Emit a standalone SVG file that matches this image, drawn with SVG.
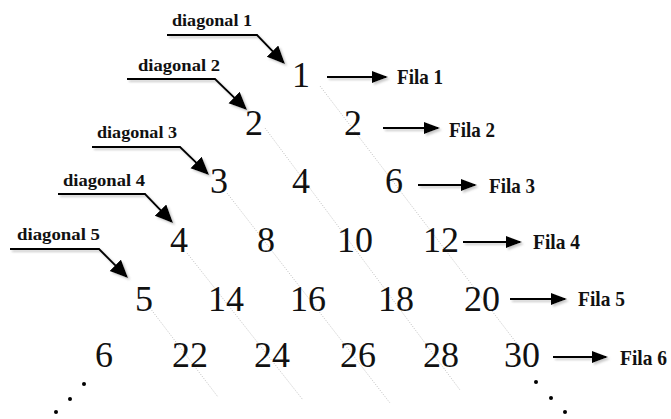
<svg xmlns="http://www.w3.org/2000/svg" width="671" height="419" viewBox="0 0 671 419">
  <style>
    .num { font-family: 'Liberation Serif', serif; font-size: 36px; fill: #111; text-anchor: middle; }
    .lab { font-family: 'Liberation Serif', serif; font-weight: bold; font-size: 17px; fill: #111; }
    .fila { font-family: 'Liberation Serif', serif; font-weight: bold; font-size: 21px; fill: #111; }
    .diag { fill: none; stroke: #b0b0b0; stroke-width: 0.8; stroke-dasharray: 1 1.6; }
    .arr { fill: none; stroke: #000; stroke-width: 2; }
    .dot { fill: #000; }
  </style>
  <defs>
    <filter id="shadow" x="-20%" y="-20%" width="140%" height="160%">
      <feDropShadow dx="2" dy="2" stdDeviation="0.8" flood-color="#888" flood-opacity="0.45"/>
    </filter>
    <marker id="headBig" markerUnits="userSpaceOnUse" markerWidth="20" markerHeight="18" refX="16" refY="8" orient="auto">
      <path d="M0,0 L18,8 L0,16 Z" fill="#000"/>
    </marker>
    <marker id="headSmall" markerUnits="userSpaceOnUse" markerWidth="18" markerHeight="14" refX="14" refY="6" orient="auto">
      <path d="M0,0 L16,6 L0,12 Z" fill="#000"/>
    </marker>
  </defs>

  <!-- dotted diagonals running through the triangle -->
  <g id="diagonals">
    <line class="diag" x1="320" y1="86" x2="518" y2="345"/>
    <line class="diag" x1="265" y1="128" x2="460" y2="390"/>
    <line class="diag" x1="227" y1="193" x2="390" y2="403"/>
    <line class="diag" x1="187" y1="253" x2="303" y2="400"/>
    <line class="diag" x1="150" y1="308" x2="218" y2="397"/>
  </g>

  <!-- connectors: diagonal labels and row labels -->
  <g id="connectors" filter="url(#shadow)">
    <path class="arr" d="M167,35 H257 L283.6,62.6" marker-end="url(#headBig)"/>
    <path class="arr" d="M127,79 H215 L245.6,108.6" marker-end="url(#headBig)"/>
    <path class="arr" d="M92,147 H180 L207.6,173.6" marker-end="url(#headBig)"/>
    <path class="arr" d="M58,194 H145 L171.6,221.6" marker-end="url(#headBig)"/>
    <path class="arr" d="M10,249 H99 L126.6,276.6" marker-end="url(#headBig)"/>

    <path class="arr" d="M327,77 H386" marker-end="url(#headSmall)"/>
    <path class="arr" d="M383,128 H438" marker-end="url(#headSmall)"/>
    <path class="arr" d="M418,185 H475" marker-end="url(#headSmall)"/>
    <path class="arr" d="M463,242 H520" marker-end="url(#headSmall)"/>
    <path class="arr" d="M510,299 H565" marker-end="url(#headSmall)"/>
    <path class="arr" d="M553,357 H606" marker-end="url(#headSmall)"/>
  </g>

  <!-- diagonal labels -->
  <g id="diag-labels">
    <text id="diagonal1" class="lab" x="172" y="26" textLength="80" lengthAdjust="spacingAndGlyphs">diagonal 1</text>
    <text id="diagonal2" class="lab" x="138" y="71" textLength="82" lengthAdjust="spacingAndGlyphs">diagonal 2</text>
    <text id="diagonal3" class="lab" x="97" y="138" textLength="80" lengthAdjust="spacingAndGlyphs">diagonal 3</text>
    <text id="diagonal4" class="lab" x="63" y="186" textLength="82" lengthAdjust="spacingAndGlyphs">diagonal 4</text>
    <text id="diagonal5" class="lab" x="17" y="240" textLength="83" lengthAdjust="spacingAndGlyphs">diagonal 5</text>
  </g>

  <!-- row labels -->
  <g id="row-labels">
    <text id="fila1" class="fila" x="397" y="84" textLength="46" lengthAdjust="spacingAndGlyphs">Fila 1</text>
    <text id="fila2" class="fila" x="449" y="137" textLength="46" lengthAdjust="spacingAndGlyphs">Fila 2</text>
    <text id="fila3" class="fila" x="489" y="193" textLength="46" lengthAdjust="spacingAndGlyphs">Fila 3</text>
    <text id="fila4" class="fila" x="533" y="249" textLength="47" lengthAdjust="spacingAndGlyphs">Fila 4</text>
    <text id="fila5" class="fila" x="578" y="306" textLength="47" lengthAdjust="spacingAndGlyphs">Fila 5</text>
    <text id="fila6" class="fila" x="620" y="365" textLength="47" lengthAdjust="spacingAndGlyphs">Fila 6</text>
  </g>

  <!-- triangle of numbers -->
  <g id="row1"><text class="num" x="301" y="87">1</text></g>
  <g id="row2">
    <text class="num" x="254" y="135">2</text>
    <text class="num" x="353" y="135">2</text>
  </g>
  <g id="row3">
    <text class="num" x="219" y="193">3</text>
    <text class="num" x="301" y="193">4</text>
    <text class="num" x="394" y="193">6</text>
  </g>
  <g id="row4">
    <text class="num" x="179" y="252">4</text>
    <text class="num" x="266" y="252">8</text>
    <text class="num" x="355" y="252">10</text>
    <text class="num" x="441" y="252">12</text>
  </g>
  <g id="row5">
    <text class="num" x="144" y="311">5</text>
    <text class="num" x="226" y="311">14</text>
    <text class="num" x="308" y="311">16</text>
    <text class="num" x="396" y="311">18</text>
    <text class="num" x="482" y="311">20</text>
  </g>
  <g id="row6">
    <text class="num" x="104" y="367">6</text>
    <text class="num" x="190" y="367">22</text>
    <text class="num" x="272" y="367">24</text>
    <text class="num" x="358" y="367">26</text>
    <text class="num" x="441" y="367">28</text>
    <text class="num" x="522" y="367">30</text>
  </g>

  <!-- continuation dots -->
  <g id="dots-left">
    <circle class="dot" cx="84" cy="384" r="2"/>
    <circle class="dot" cx="70" cy="399" r="2"/>
    <circle class="dot" cx="56" cy="412" r="2"/>
  </g>
  <g id="dots-right">
    <circle class="dot" cx="536" cy="382" r="2"/>
    <circle class="dot" cx="551" cy="398" r="2"/>
    <circle class="dot" cx="565" cy="412" r="2"/>
  </g>
</svg>
